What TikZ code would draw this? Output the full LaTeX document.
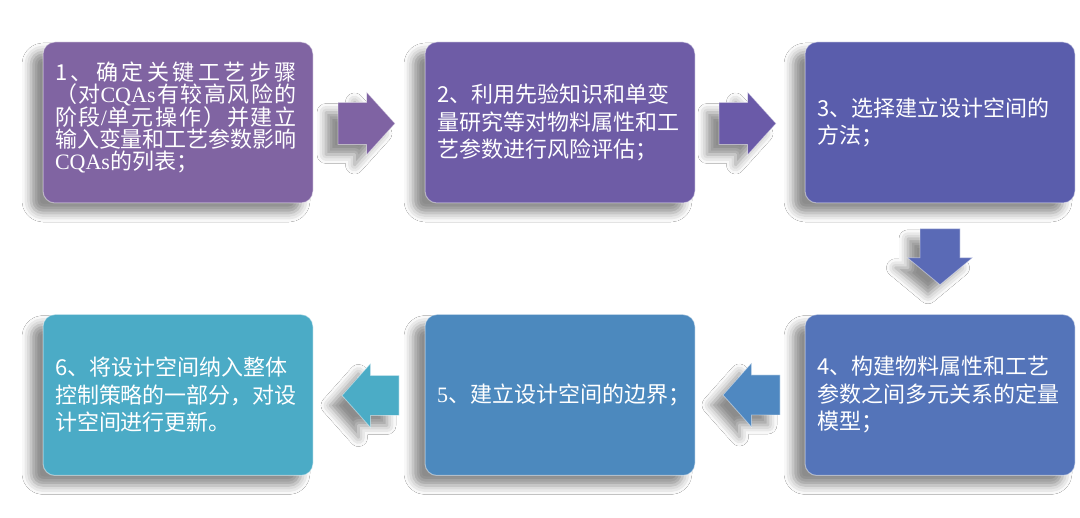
\documentclass[tikz,border=0pt]{standalone}
\usepackage{fontspec}
\setmainfont{Noto Sans CJK SC}
\newfontfamily\lat{Liberation Serif}
\usetikzlibrary{shadows.blur,calc}
\definecolor{cA}{HTML}{8064A2}
\definecolor{cB}{HTML}{6E5CA6}
\definecolor{cC}{HTML}{5A5DAC}
\definecolor{cD}{HTML}{5474B9}
\definecolor{cE}{HTML}{4C89BE}
\definecolor{cF}{HTML}{4BABC6}
\definecolor{aA}{HTML}{7F63A3}
\definecolor{aB}{HTML}{6A5AA8}
\definecolor{aC}{HTML}{5A6AB6}
\definecolor{aD}{HTML}{4F88C1}
\definecolor{aE}{HTML}{4BACC6}
\newcommand\boxline[1]{\makebox[242pt][s]{#1}}
\begin{document}
\begin{tikzpicture}[x=1pt,y=-1pt,
  softshadow/.style={blur shadow={shadow xshift=-12pt, shadow yshift=-10pt, shadow blur radius=9pt, shadow opacity=45}},
  stepbox/.style={rectangle, rounded corners=12pt, minimum width=270pt, minimum height=161pt,
    text width=246pt, inner xsep=12pt, inner ysep=0pt, align=left, text=white,
    font=\fontsize{22}{27.5}\selectfont, draw=white, draw opacity=0.45, line width=1pt, softshadow},
  arrowlook/.style={draw=white, draw opacity=0.45, line width=0.8pt, softshadow},
  rightarrow/.pic={\filldraw[pic actions, arrowlook] (-28.5,-21) -- (0,-21) -- (0,-31.5) -- (28.5,0) -- (0,31.5) -- (0,21) -- (-28.5,21) -- cycle;},
  leftarrow/.pic={\filldraw[pic actions, arrowlook] (28.5,-20) -- (0,-20) -- (0,-32) -- (-28.5,0) -- (0,32) -- (0,20) -- (28.5,20) -- cycle;},
  downarrow/.pic={\filldraw[pic actions, arrowlook] (-20,-28) -- (20,-28) -- (20,1) -- (32.5,1) -- (0,28) -- (-32.5,1) -- (-20,1) -- cycle;}]
\fill[white] (0,0) rectangle (1080,518);
\useasboundingbox (0,0) rectangle (1080,518);

\node[stepbox, fill=cA, font=\fontsize{22}{22}\selectfont] (b1) at (178,122.5) {%
\boxline{1\hfill 、\hfill 确\hfill 定\hfill 关\hfill 键\hfill 工\hfill 艺\hfill 步\hfill 骤}\\
\boxline{（\hfill 对{\lat CQAs}\hfill 有\hfill 较\hfill 高\hfill 风\hfill 险\hfill 的}\\
\boxline{阶\hfill 段{\lat /}单\hfill 元\hfill 操\hfill 作\hfill ）\hfill 并\hfill 建\hfill 立}\\
\boxline{输入变量和工艺参数影响\hfill}\\
{\lat CQAs}的列表；\\[-8pt]\mbox{}};

\node[stepbox, fill=cB] (b2) at (560,122.5) {2、利用先验知识和单变\\量研究等对物料属性和工\\艺参数进行风险评估；};
\node[stepbox, fill=cC] (b3) at (940,122.5) {3、选择建立设计空间的\\方法；};
\node[stepbox, fill=cD] (b4) at (940,395) {4、构建物料属性和工艺\\参数之间多元关系的定量\\模型；};
\node[stepbox, fill=cE] (b5) at (560,395) {{\lat 5}、建立设计空间的边界；};
\node[stepbox, fill=cF] (b6) at (178,395) {6、将设计空间纳入整体\\控制策略的一部分，对设\\计空间进行更新。};

\coordinate (m1) at ($(b1.east)!0.5!(b2.west)+(-2.5,1)$);
\coordinate (m2) at ($(b2.east)!0.5!(b3.west)+(-2.5,1)$);
\coordinate (m3) at ($(b3.south)!0.5!(b4.north)+(0,-2)$);
\coordinate (m4) at ($(b4.west)!0.5!(b5.east)+(1.5,0)$);
\coordinate (m5) at ($(b5.west)!0.5!(b6.east)+(1.5,0.5)$);
\pic[fill=aA] at (m1) {rightarrow};
\pic[fill=aB] at (m2) {rightarrow};
\pic[fill=aC] at (m3) {downarrow};
\pic[fill=aD] at (m4) {leftarrow};
\pic[fill=aE] at (m5) {leftarrow};
\end{tikzpicture}
\end{document}
